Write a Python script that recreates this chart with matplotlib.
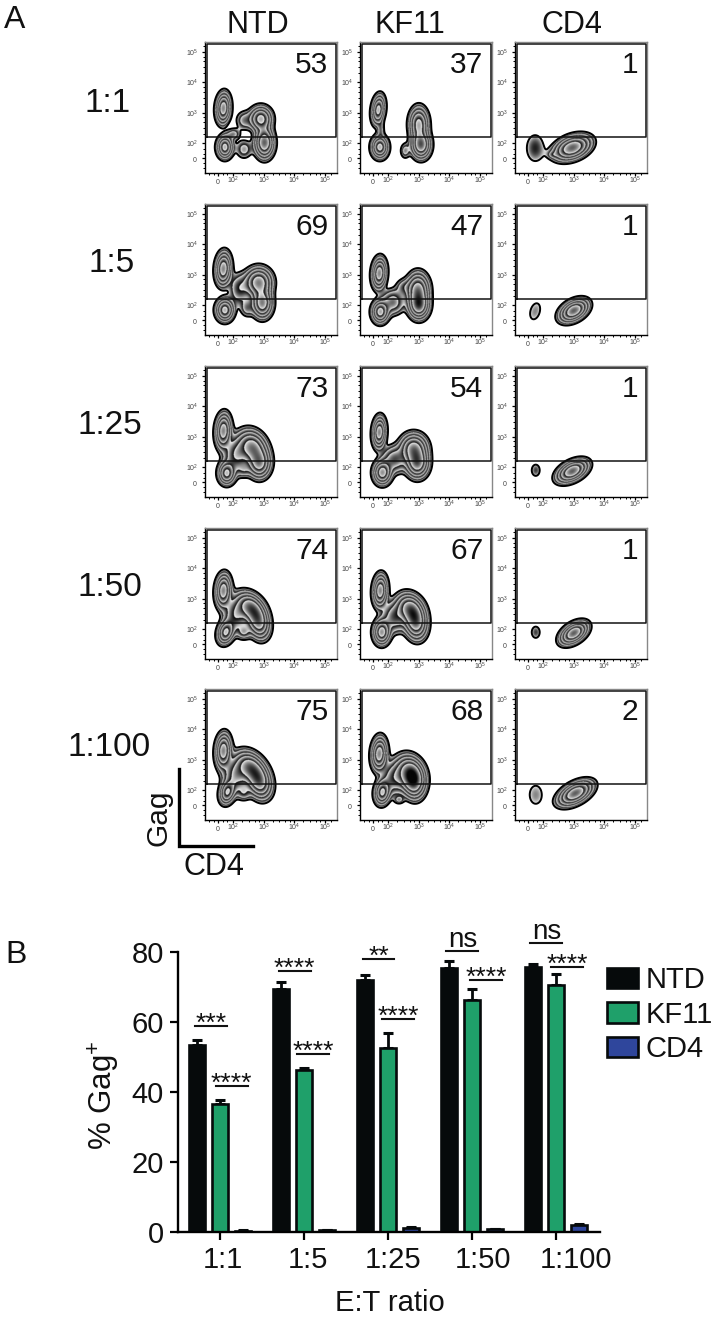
import numpy as np
import matplotlib
matplotlib.use("Agg")
import matplotlib.pyplot as plt
from matplotlib.transforms import ScaledTranslation

plt.rcParams["font.family"] = ["Liberation Sans", "DejaVu Sans"]
plt.rcParams["mathtext.default"] = "regular"

W, H = 712, 1319

# panel A: gate percentages, rows are E:T ratios
ratios = ["1:1", "1:5", "1:25", "1:50", "1:100"]
effectors = ["NTD", "KF11", "CD4"]
pct_ntd = [53, 69, 73, 74, 75]
pct_kf11 = [37, 47, 54, 67, 68]
pct_cd4 = [1, 1, 1, 1, 2]

# populations: x, y, sd x, sd y, tilt, weight (x,y in decades)
pops_ntd = [
    [(1.67, 3.15, .13, .27, .1, .9), (1.72, 1.87, .14, .2, 0, .8), (2.9, 2.8, .2, .22, 0, .8),
     (3.02, 2.02, .17, .27, 0, 1.), (2.35, 2.75, .17, .2, 0, .14), (2.35, 1.8, .17, .2, 0, .14), (2.0, 2.3, .14, .12, 0, .14)],
    [(1.67, 3.2, .14, .29, .1, .9), (1.72, 1.84, .16, .2, 0, .8), (2.83, 2.75, .24, .26, 0, .9),
     (2.95, 2.07, .18, .26, 0, .9), (2.2, 2.55, .2, .3, 0, .2), (2.45, 1.9, .14, .18, 0, .14)],
    [(1.67, 3.2, .14, .3, .1, .9), (1.78, 1.8, .15, .2, 0, .75), (2.63, 2.65, .26, .3, -.2, .9),
     (2.85, 2.12, .2, .26, 0, .8), (2.1, 2.4, .24, .34, 0, .4), (2.35, 1.9, .14, .14, 0, .12)],
    [(1.67, 3.27, .14, .29, .1, .9), (1.75, 1.9, .15, .21, .2, .75), (2.57, 2.72, .24, .26, -.3, .9),
     (2.82, 2.25, .2, .3, -.2, .9), (2.1, 2.5, .24, .34, 0, .4), (2.35, 1.9, .14, .14, 0, .2)],
    [(1.67, 3.3, .14, .3, .1, .9), (1.8, 1.93, .14, .21, .2, .7), (2.57, 2.75, .26, .28, -.3, .9),
     (2.85, 2.28, .22, .3, -.2, .9), (2.1, 2.5, .25, .34, 0, .45), (2.35, 1.9, .14, .14, 0, .15)],
]
pops_kf11 = [
    [(1.67, 3.1, .12, .26, .2, .8), (1.72, 1.87, .15, .2, 0, .8), (3.0, 2.62, .17, .3, 0, .8),
     (3.07, 1.95, .17, .24, 0, 1.), (1.75, 2.45, .07, .2, 0, .14), (2.55, 1.75, .1, .16, 0, .14)],
    [(1.7, 3.05, .13, .27, .1, .9), (1.73, 1.78, .15, .2, 0, .8), (2.97, 2.5, .2, .3, 0, .9),
     (3.0, 2.0, .18, .24, 0, 1.), (2.15, 2.1, .22, .24, 0, .3), (2.5, 2.6, .16, .17, 0, .14)],
    [(1.7, 3.15, .12, .27, .1, .9), (1.8, 1.82, .16, .21, 0, .85), (2.83, 2.62, .24, .26, 0, .85),
     (2.95, 2.14, .2, .26, 0, .95), (2.2, 2.25, .24, .26, 0, .32)],
    [(1.73, 3.27, .13, .28, .1, .9), (1.78, 1.9, .15, .22, 0, .85), (2.72, 2.67, .24, .27, -.2, .9),
     (2.9, 2.22, .2, .3, -.1, .9), (2.2, 2.4, .24, .3, 0, .32)],
    [(1.7, 3.2, .14, .29, .1, .9), (1.8, 1.93, .14, .22, .1, .75), (2.72, 2.58, .25, .3, -.2, .9),
     (2.82, 2.28, .2, .3, -.1, .9), (2.2, 2.4, .24, .32, 0, .34), (2.35, 1.68, .1, .08, 0, .12)],
]
pops_cd4 = [
    [(1.73, 1.84, .23, .36, 0, .1), (2.95, 1.85, .32, .22, .35, 1.), (2.3, 1.62, .1, .07, 0, .08)],
    [(1.73, 1.8, .2, .32, .3, .07), (3.0, 1.82, .25, .2, .4, 1.)],
    [(1.75, 1.9, .12, .17, 0, .09), (2.95, 1.87, .27, .2, .45, 1.)],
    [(1.75, 1.9, .12, .17, 0, .09), (3.0, 1.87, .24, .2, .45, 1.)],
    [(1.75, 1.85, .24, .36, 0, .07), (3.05, 1.9, .3, .22, .5, 1.)],
]

# panel B: bar heights and upper error bars
ntd = [53.3, 69.5, 72.0, 75.5, 75.7]
ntd_err = [1.5, 1.8, 1.4, 1.8, 0.8]
kf11 = [36.7, 46.2, 52.6, 66.2, 70.7]
kf11_err = [1.0, 0.8, 4.2, 3.2, 3.0]
cd4 = [0.4, 0.5, 1.2, 0.8, 1.9]
cd4_err = [0.2, 0.2, 0.3, 0.2, 0.3]

sig_labels = ["***", "****", "****", "****", "**", "****", "ns", "****", "ns", "****"]
sig_centers = [-0.107, 0.137, 0.887, 1.107, 1.887, 2.125, 2.887, 3.167, 3.887, 4.137]
sig_heights = [58.9, 41.7, 74.6, 50.9, 78.0, 60.9, 80.3, 72.0, 82.6, 75.7]

panel_lefts = [205, 360, 515]
panel_tops = [42, 204, 366, 528, 689]
levels = [.05, .11, .22, .4, .68]

fig = plt.figure(figsize=(W / 100, H / 100), dpi=100, facecolor="white")


def px_axes(left, top, right, bottom):
    return fig.add_axes([left / W, 1 - bottom / H, (right - left) / W, (bottom - top) / H])


def px_text(x, y, s, size, **kw):
    kw.setdefault("ha", "center")
    kw.setdefault("va", "center")
    fig.text(x / W, 1 - y / H, s, fontsize=size, color="#111111", **kw)


def density(pops, xx, yy):
    d = np.zeros_like(xx)
    for x0, y0, sx, sy, rho, w in pops:
        u = (xx - x0) / sx
        v = (yy - y0) / sy
        d += w * np.exp(-(u * u - 2 * rho * u * v + v * v) / (2 * (1 - rho ** 2)))
    return d


def zebra(ax, pops):
    xs = np.linspace(1.07, 5.4, 520)
    ys = np.linspace(1.02, 5.33, 520)
    xx, yy = np.meshgrid(xs, ys)
    d = density(pops, xx, yy)
    logd = np.log(np.maximum(d, 1e-9))
    loglev = np.log(levels + [1.3])
    band = np.clip(np.searchsorted(loglev, logd.ravel(), side="right").reshape(d.shape) - 1, 0, len(levels) - 1)
    frac = np.clip((logd - loglev[band]) / (loglev[band + 1] - loglev[band]), 0, 1)
    # each band runs from light just inside its contour to dark before the next one
    gray = 1.0 - 0.98 * frac ** 0.85
    img = np.ma.masked_where(d < levels[0], gray)
    ax.imshow(img, extent=[xs[0], xs[-1], ys[0], ys[-1]], origin="lower", cmap="gray",
              vmin=0, vmax=1, aspect="auto", interpolation="bilinear", zorder=1)
    ax.contour(xx, yy, d, levels=levels[:1], colors="black", linewidths=1.4, zorder=2)


decade_minor = [p + m for p in (2, 3, 4) for m in (.3, .5, .7, .85)] + [1.2, 1.35, 1.65, 1.8, 5.2]
tick_pos = [1.5, 2, 3, 4, 5]
tick_text = ["$0$", "$10^{2}$", "$10^{3}$", "$10^{4}$", "$10^{5}$"]

for col, (left, pcts, pops) in enumerate(zip(panel_lefts, [pct_ntd, pct_kf11, pct_cd4],
                                             [pops_ntd, pops_kf11, pops_cd4])):
    for row, top in enumerate(panel_tops):
        ax = px_axes(left, top, left + 132, top + 131)
        zebra(ax, pops[row])
        ax.set_xlim(1.07, 5.4)
        ax.set_ylim(1.02, 5.33)
        ax.plot([1.13, 1.13, 5.37, 5.37, 1.07], [2.2, 5.25, 5.25, 2.2, 2.2], color="#111111", lw=1.1, zorder=3)
        ax.set_xticks(tick_pos, tick_text)
        ax.set_yticks(tick_pos, tick_text)
        ax.set_xticks(decade_minor, minor=True)
        ax.set_yticks(decade_minor, minor=True)
        ax.tick_params(which="major", length=2.5, width=0.9, labelsize=5, labelcolor="#444444")
        ax.tick_params(which="minor", length=1.5, width=0.7)
        ax.tick_params(axis="x", which="major", pad=5.4)
        ax.tick_params(axis="y", which="major", pad=2.5)
        for lbl in ax.get_xticklabels():
            lbl.set_verticalalignment("baseline")
        for side in ("top", "right"):
            ax.spines[side].set_color("#888888")
            ax.spines[side].set_linewidth(1.0)
        for side in ("left", "bottom"):
            ax.spines[side].set_linewidth(1.0)
        ax.text(0.935, 0.825, str(pcts[row]), transform=ax.transAxes, ha="right", va="center",
                fontsize=21.5, color="#111111", zorder=4)

# headers, row labels, panel letters
for x, name in zip([258, 410, 572], effectors):
    px_text(x, 25, name, 22)
for y, x, name in zip([103, 263, 425, 587, 747], [108, 112, 110, 110, 109], ratios):
    px_text(x, y, name, 24)
px_text(15, 20, "A", 23)
px_text(16, 955, "B", 23)

# Gag / CD4 scale bar
ax_over = fig.add_axes([0, 0, 1, 1], facecolor="none")
ax_over.set_xlim(0, W)
ax_over.set_ylim(H, 0)
ax_over.axis("off")
ax_over.plot([179, 179, 253], [769, 846, 846], color="black", lw=2.4, solid_joinstyle="miter")
px_text(158, 818, "Gag", 21.5, rotation=90)
px_text(214, 867, "CD4", 22)

# panel B
ax = px_axes(178, 952, 600, 1232)
x = np.arange(len(ratios))
offset = 0.274
bar_w = 0.2
series = [(ntd, ntd_err, "#060a0b", "NTD", -offset), (kf11, kf11_err, "#1fa06a", "KF11", 0),
          (cd4, cd4_err, "#2f469c", "CD4", offset)]
for vals, errs, color, name, off in series:
    ax.bar(x + off, vals, bar_w, color=color, edgecolor="#060a0b", linewidth=1.9, label=name, zorder=2)
    ax.errorbar(x + off, vals, yerr=[np.zeros(len(vals)), errs], fmt="none", ecolor="#060a0b",
                elinewidth=2.0, capsize=3.8, capthick=2.2, zorder=1)

half = 16 / 84
for label, c, h in zip(sig_labels, sig_centers, sig_heights):
    ax.plot([c - half, c + half], [h, h], color="#111111", lw=1.5, clip_on=False, zorder=3)
    if label == "ns":
        ax.annotate(label, (c, h), xytext=(0, 3), textcoords="offset points", ha="center", va="baseline",
                    fontsize=20, color="#111111", annotation_clip=False)
    else:
        ax.annotate(label, (c, h), xytext=(0, -3.5), textcoords="offset points", ha="center", va="baseline",
                    fontsize=19, color="#111111", annotation_clip=False)

ax.set_xlim(-0.5, 4.524)
ax.set_ylim(0, 80)
ax.set_yticks([0, 20, 40, 60, 80])
ax.set_xticks(x, ratios)
ax.tick_params(length=6, width=1.6, labelsize=21, pad=4, labelcolor="#111111")
# the x labels drift to the right of their ticks in the original
for lbl, dx in zip(ax.get_xticklabels(), [3, 4, 5, 11, 20]):
    lbl.set_transform(lbl.get_transform() + ScaledTranslation(dx / 100, 0, fig.dpi_scale_trans))
for side in ("top", "right"):
    ax.spines[side].set_visible(False)
for side in ("left", "bottom"):
    ax.spines[side].set_linewidth(1.7)
px_text(104, 1095, "% Gag$^{+}$", 22.5, rotation=90)
px_text(390, 1303, "E:T ratio", 21)
ax.legend(loc="upper left", bbox_to_anchor=(429 / 422, 0.95), frameon=False, fontsize=21, handlelength=1.05,
          handleheight=0.7, handletextpad=0.28, labelspacing=0.23, borderaxespad=0, borderpad=0, labelcolor="#111111")

fig.savefig("out.png", dpi=100)
